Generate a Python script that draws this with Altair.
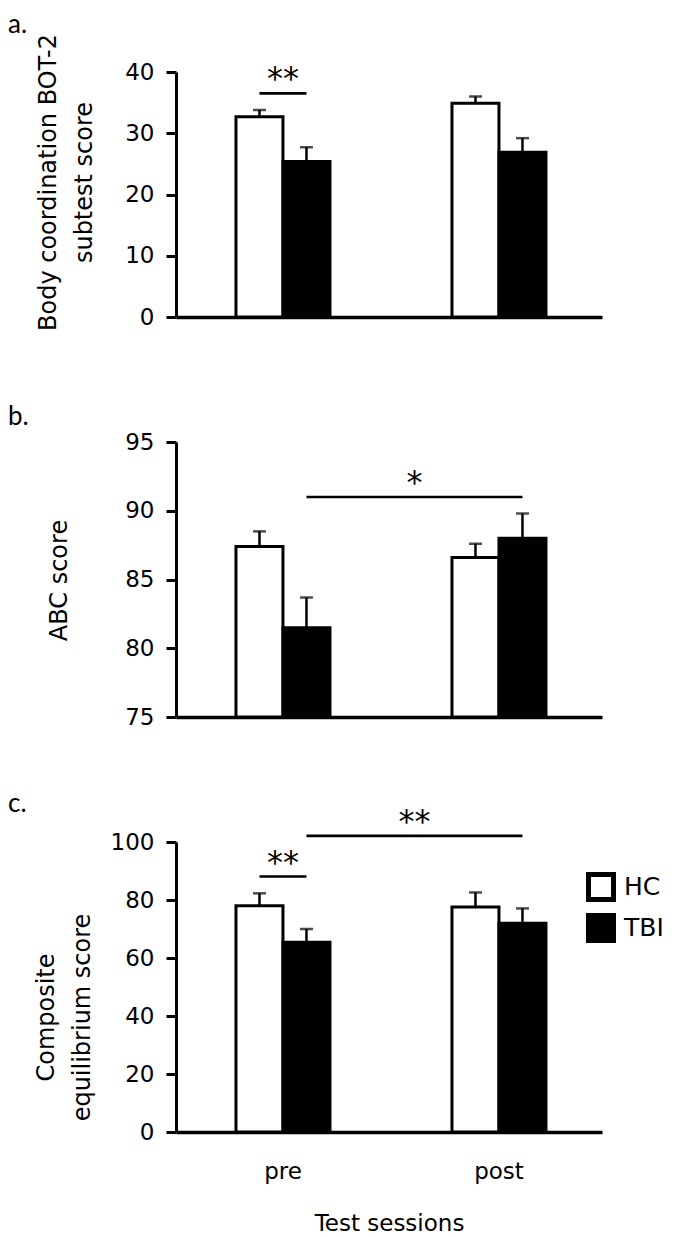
import altair as alt
import pandas as pd

sessions = ["pre", "post"]
groups = ["HC", "TBI"]

# Panel a: Body coordination BOT-2 subtest score (mean, SEM)
a_hc_mean = [32.7, 34.9]
a_hc_sem = [1.1, 1.1]
a_tbi_mean = [25.4, 26.9]
a_tbi_sem = [2.3, 2.3]
a_sig_pairs = [["pre", "HC", "pre", "TBI"]]
a_sig_levels = [36.5]
a_sig_labels = ["**"]

# Panel b: ABC score
b_hc_mean = [87.4, 86.6]
b_hc_sem = [1.1, 1.0]
b_tbi_mean = [81.5, 88.0]
b_tbi_sem = [2.2, 1.8]
b_sig_pairs = [["pre", "TBI", "post", "TBI"]]
b_sig_levels = [91.0]
b_sig_labels = ["*"]

# Panel c: Composite equilibrium score
c_hc_mean = [78.0, 77.6]
c_hc_sem = [4.3, 5.0]
c_tbi_mean = [65.4, 72.0]
c_tbi_sem = [4.6, 5.1]
c_sig_pairs = [["pre", "HC", "pre", "TBI"], ["pre", "TBI", "post", "TBI"]]
c_sig_levels = [88.1, 102.1]
c_sig_labels = ["**", "**"]

FONT = "DejaVu Sans"
PLOT_W = 426
X_PAD_INNER = 0.5648
X_PAD_OUTER = 0.2685
X_ALIGN = 0.517
X_STEP = PLOT_W / (2 - X_PAD_INNER + 2 * X_PAD_OUTER)


def make_panel(hc_mean, hc_sem, tbi_mean, tbi_sem, pairs, levels, labels,
               ymin, ymax, yticks, ytitle, tag, tag_offset, height,
               title_x, title_y, last):
    rows = []
    for i, s in enumerate(sessions):
        rows.append({"Session": s, "Group": "HC", "mean": hc_mean[i],
                     "upper": hc_mean[i] + hc_sem[i]})
        rows.append({"Session": s, "Group": "TBI", "mean": tbi_mean[i],
                     "upper": tbi_mean[i] + tbi_sem[i]})
    df = pd.DataFrame(rows)

    line_rows, within_rows, across_rows = [], [], []
    for k, (p, lev, lab) in enumerate(zip(pairs, levels, labels)):
        line_rows.append({"id": k, "Session": p[0], "Group": p[1], "level": lev})
        line_rows.append({"id": k, "Session": p[2], "Group": p[3], "level": lev})
        if p[0] == p[2]:
            within_rows.append({"Session": p[0], "level": lev, "label": lab})
        else:
            across_rows.append({"Session": p[0], "Group": p[1], "level": lev, "label": lab})
    ldf = pd.DataFrame(line_rows)

    xscale = alt.Scale(domain=sessions, paddingInner=X_PAD_INNER,
                       paddingOuter=X_PAD_OUTER, align=X_ALIGN)
    if last:
        xaxis = alt.Axis(title="Test sessions", labelAngle=0, ticks=False,
                         domainWidth=3.5, labelPadding=28, titlePadding=29,
                         labelFontSize=23, titleFontSize=23)
    else:
        xaxis = alt.Axis(title=None, labels=False, ticks=False, domainWidth=3.5)
    xtitle = "Test sessions" if last else None

    def X():
        return alt.X("Session:N", sort=sessions, scale=xscale, axis=xaxis,
                     title=xtitle)

    off = alt.XOffset("Group:N", sort=groups,
                      scale=alt.Scale(domain=groups, paddingInner=0, paddingOuter=0))
    yscale = alt.Scale(domain=[ymin, ymax], nice=False, zero=False)
    yaxis = alt.Axis(values=yticks, title=ytitle, titleX=title_x, titleY=title_y,
                     titleAlign="center", titleBaseline="middle", titleAngle=270,
                     titleLineHeight=36, domainWidth=3, tickWidth=3, tickSize=10,
                     labelPadding=12, labelFontSize=23, titleFontSize=24)

    def Y(field):
        return alt.Y(field, scale=yscale, axis=yaxis, title=ytitle)

    if last:
        legend = alt.Legend(title=None, orient="none", legendX=410, legendY=30,
                            symbolType="square", symbolSize=625,
                            symbolStrokeColor="black", symbolStrokeWidth=5,
                            labelFontSize=25, labelFont=FONT, labelColor="black",
                            rowPadding=-5, padding=0, labelOffset=8)
    else:
        legend = None

    bars = alt.Chart(df).mark_bar(stroke="black", strokeWidth=3).encode(
        x=X(), xOffset=off, y=Y("mean:Q"), y2=alt.datum(ymin),
        fill=alt.Fill("Group:N", scale=alt.Scale(domain=groups, range=["white", "black"]),
                      legend=legend),
    )
    err = alt.Chart(df).mark_rule(color="black", strokeWidth=2.5).encode(
        x=X(), xOffset=off, y=Y("mean:Q"), y2="upper:Q")
    cap = alt.Chart(df).mark_tick(color="black", thickness=2.5, size=13).encode(
        x=X(), xOffset=off, y=Y("upper:Q"))
    lines = alt.Chart(ldf).mark_line(color="black", strokeWidth=2.7).encode(
        x=X(), xOffset=off, y=Y("level:Q"), detail="id:N")
    layers = [bars, err, cap, lines]
    if within_rows:
        layers.append(alt.Chart(pd.DataFrame(within_rows)).mark_text(
            font=FONT, fontSize=32, baseline="alphabetic", color="black", dy=-4).encode(
            x=X(), y=Y("level:Q"), text="label:N"))
    if across_rows:
        layers.append(alt.Chart(pd.DataFrame(across_rows)).mark_text(
            font=FONT, fontSize=32, baseline="alphabetic", color="black",
            dx=X_STEP / 2, dy=-4).encode(
            x=X(), xOffset=off, y=Y("level:Q"), text="label:N"))

    return alt.layer(*layers).properties(
        width=PLOT_W, height=height,
        title=alt.TitleParams(tag, anchor="start", frame="group", dx=-168,
                              offset=tag_offset, baseline="alphabetic",
                              font="Lato", fontSize=26, fontWeight="normal",
                              color="black"))


pa = make_panel(a_hc_mean, a_hc_sem, a_tbi_mean, a_tbi_sem, a_sig_pairs,
                a_sig_levels, a_sig_labels, 0, 40, [0, 10, 20, 30, 40],
                ["Body coordination BOT-2", "subtest score"], "a.", -25, 245,
                -128, 110, False)
pb = make_panel(b_hc_mean, b_hc_sem, b_tbi_mean, b_tbi_sem, b_sig_pairs,
                b_sig_levels, b_sig_labels, 75, 95, [75, 80, 85, 90, 95],
                "ABC score", "b.", -20, 275, -117, 138, False)
pc = make_panel(c_hc_mean, c_hc_sem, c_tbi_mean, c_tbi_sem, c_sig_pairs,
                c_sig_levels, c_sig_labels, 0, 100, [0, 20, 40, 60, 80, 100],
                ["Composite", "equilibrium score"], "c.", -32, 290,
                -130, 175, True)

chart = alt.vconcat(pa, pb, pc, spacing=125, bounds="flush").resolve_scale(
    fill="independent", x="independent", y="independent"
).resolve_legend(fill="independent").properties(
    padding={"top": 3, "left": 0, "right": 0, "bottom": 0}
).configure_view(
    stroke=None
).configure_axis(
    grid=False, domainColor="black", tickColor="black", labelColor="black",
    titleColor="black", labelFont=FONT, titleFont=FONT, titleFontWeight="normal"
)

chart.save("out.html", embed_options={"renderer": "svg", "actions": False})
